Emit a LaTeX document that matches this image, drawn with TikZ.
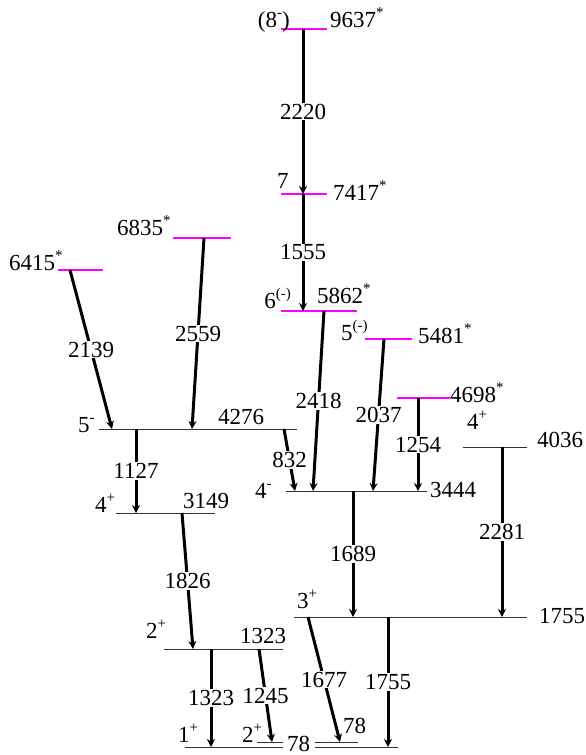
\documentclass[tikz,border=0pt]{standalone}
\usepackage{fontspec}
\setmainfont{Liberation Serif}
\usetikzlibrary{arrows.meta}
\definecolor{lvlmag}{RGB}{255,0,255}
\newcommand\gfont{\fontsize{23}{27}\selectfont}
\newcommand\supx[1]{\raisebox{0.42em}{\fontsize{15}{15}\selectfont #1}}
\tikzset{
  lvl/.style={line width=1pt, draw=black!80},
  exlvl/.style={line width=1.3pt, draw=lvlmag},
  gam/.style={line width=3pt, -{Stealth[length=8pt,width=8pt]}},
  glab/.style={fill=white, inner sep=1pt, font=\gfont},
  txt/.style={inner sep=0pt, anchor=base west, font=\gfont},
}
\begin{document}
\begin{tikzpicture}[x={(1pt,0pt)}, y={(0pt,-1pt)}]
\useasboundingbox (0,0) rectangle (586,755);
% ---- level lines ----
\draw[exlvl] (281,29) coordinate (l9637a) -- (327,29) coordinate (l9637b);
\draw[exlvl] (281,194) coordinate (l7417a) -- (327,194) coordinate (l7417b);
\draw[exlvl] (281,311) coordinate (l5862a) -- (357,311) coordinate (l5862b);
\draw[exlvl] (365,339) coordinate (l5481a) -- (412,339) coordinate (l5481b);
\draw[exlvl] (397,398) coordinate (l4698a) -- (450,398) coordinate (l4698b);
\draw[exlvl] (173,238) coordinate (l6835a) -- (231,238) coordinate (l6835b);
\draw[exlvl] (58,270) coordinate (l6415a) -- (103,270) coordinate (l6415b);
\draw[lvl] (99,429) coordinate (l4276a) -- (297,429) coordinate (l4276b);
\draw[lvl] (286,491) coordinate (l3444a) -- (427,491) coordinate (l3444b);
\draw[lvl] (463,447) coordinate (l4036a) -- (527,447) coordinate (l4036b);
\draw[lvl] (116,513) coordinate (l3149a) -- (215,513) coordinate (l3149b);
\draw[lvl] (294,617) coordinate (l1755a) -- (527,617) coordinate (l1755b);
\draw[lvl] (164,649) coordinate (l1323a) -- (283,649) coordinate (l1323b);
\draw[lvl] (257,742) coordinate (l78La) -- (283,742) coordinate (l78Lb);
\draw[lvl] (185,747) coordinate (l0La) -- (283,747) coordinate (l0Lb);
\draw[lvl] (315,742) coordinate (l78Ra) -- (358,742) coordinate (l78Rb);
\draw[lvl] (315,747) coordinate (l0Ra) -- (398,747) coordinate (l0Rb);
% ---- level labels ----
\node[txt, anchor=base east] (s9637) at (290,27) {(8\supx{-})};
\node[txt] (e9637) at (330,27) {9637\supx{*}};
\node[txt] (s7417) at (277,188) {7};
\node[txt] (e7417) at (333,200) {7417\supx{*}};
\node[txt, anchor=base east] (s5862) at (291,308) {6\supx{(-)}};
\node[txt] (e5862) at (317,303) {5862\supx{*}};
\node[txt] (s5481) at (341,340) {5\supx{(-)}};
\node[txt] (e5481) at (418,343) {5481\supx{*}};
\node[txt] (e4698) at (450,402) {4698\supx{*}};
\node[txt] (e6835) at (117,235) {6835\supx{*}};
\node[txt] (e6415) at (9,270) {6415\supx{*}};
\node[txt] (s4276) at (78,432) {5\supx{-}};
\node[txt] (e4276) at (218,424) {4276};
\node[txt] (s3149) at (95,512) {4\supx{+}};
\node[txt] (e3149) at (183,508) {3149};
\node[txt] (s3444) at (255,498) {4\supx{-}};
\node[txt] (e3444) at (430,497) {3444};
\node[txt] (s4036) at (467,429) {4\supx{+}};
\node[txt] (e4036) at (537,447) {4036};
\node[txt] (s1755) at (297,608) {3\supx{+}};
\node[txt] (e1755) at (539,623) {1755};
\node[txt] (s1323) at (146,638) {2\supx{+}};
\node[txt] (e1323) at (240,643) {1323};
\node[txt] (s0) at (178,742) {1\supx{+}};
\node[txt] (s78) at (242,742) {2\supx{+}};
\node[txt] (e78L) at (287,751) {78};
\node[txt] (e78R) at (343,733) {78};
% ---- transition endpoints ----
\coordinate (t2220a) at (303,29);   \coordinate (t2220b) at (303,194);
\coordinate (t1555a) at (303,194);  \coordinate (t1555b) at (303,311);
\coordinate (t2139a) at (70,270);   \coordinate (t2139b) at (112,429);
\coordinate (t2559a) at (204,238);  \coordinate (t2559b) at (192,429);
\coordinate (t1127a) at (136,429);  \coordinate (t1127b) at (136,513);
\coordinate (t832a) at (284,429);   \coordinate (t832b) at (295,491);
\coordinate (t2418a) at (324,311);  \coordinate (t2418b) at (313,491);
\coordinate (t2037a) at (384,339);  \coordinate (t2037b) at (373,491);
\coordinate (t1254a) at (418,398);  \coordinate (t1254b) at (418,491);
\coordinate (t2281a) at (502,447);  \coordinate (t2281b) at (502,617);
\coordinate (t1689a) at (353,491);  \coordinate (t1689b) at (353,617);
\coordinate (t1826a) at (182,513);  \coordinate (t1826b) at (193,649);
\coordinate (t1323a) at (211,649);  \coordinate (t1323b) at (211,747);
\coordinate (t1245a) at (259,649);  \coordinate (t1245b) at (272,742);
\coordinate (t1677a) at (308,617);  \coordinate (t1677b) at (340,742);
\coordinate (t1755a) at (388,617);  \coordinate (t1755b) at (388,747);
% ---- transitions ----
\draw[gam] (t2220a) -- node[glab] (g2220) {2220} (t2220b);
\draw[gam] (t1555a) -- node[glab] (g1555) {1555} (t1555b);
\draw[gam] (t2139a) -- node[glab] (g2139) {2139} (t2139b);
\draw[gam] (t2559a) -- node[glab] (g2559) {2559} (t2559b);
\draw[gam] (t1127a) -- node[glab] (g1127) {1127} (t1127b);
\draw[gam] (t832a) -- node[glab] (g832) {832} (t832b);
\draw[gam] (t2418a) -- node[glab] (g2418) {2418} (t2418b);
\draw[gam] (t2037a) -- node[glab] (g2037) {2037} (t2037b);
\draw[gam] (t1254a) -- node[glab] (g1254) {1254} (t1254b);
\draw[gam] (t2281a) -- node[glab] (g2281) {2281} (t2281b);
\draw[gam] (t1689a) -- node[glab] (g1689) {1689} (t1689b);
\draw[gam] (t1826a) -- node[glab] (g1826) {1826} (t1826b);
\draw[gam] (t1323a) -- node[glab] (g1323) {1323} (t1323b);
\draw[gam] (t1245a) -- node[glab] (g1245) {1245} (t1245b);
\draw[gam] (t1677a) -- node[glab] (g1677) {1677} (t1677b);
\draw[gam] (t1755a) -- node[glab] (g1755) {1755} (t1755b);
\end{tikzpicture}
\end{document}
